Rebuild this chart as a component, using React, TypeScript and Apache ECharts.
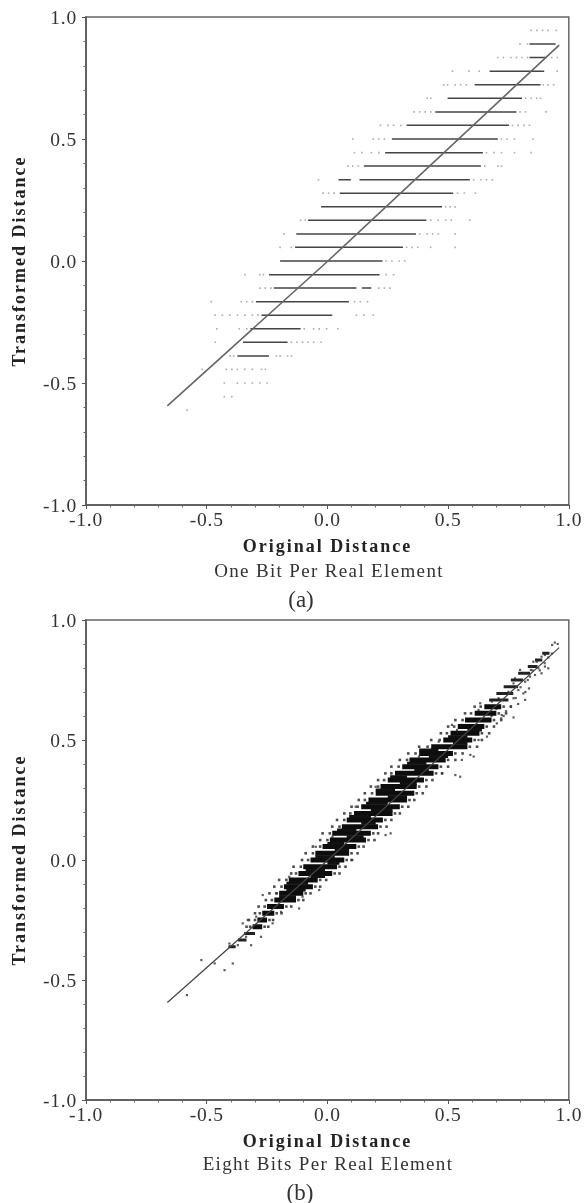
import React, { useEffect, useRef } from "react";
import * as echarts from "echarts";

const FONT = '"Liberation Serif", "Times New Roman", serif';

// ---------- Panel (a): one bit per real element ----------
const aLevels = [0.889, 0.834, 0.778, 0.722, 0.667, 0.611, 0.556, 0.5, 0.444, 0.389, 0.333, 0.333, 0.278, 0.222, 0.167, 0.111, 0.056, 0, -0.056, -0.111, -0.111, -0.167, -0.222, -0.278, -0.333, -0.389];
const aSolidStart = [0.837, 0.837, 0.672, 0.61, 0.498, 0.447, 0.328, 0.267, 0.239, 0.151, 0.046, 0.133, 0.051, -0.026, -0.08, -0.129, -0.134, -0.196, -0.242, -0.222, 0.143, -0.296, -0.273, -0.319, -0.35, -0.373];
const aSolidEnd = [0.945, 0.906, 0.898, 0.883, 0.806, 0.783, 0.752, 0.706, 0.644, 0.636, 0.097, 0.59, 0.521, 0.475, 0.41, 0.367, 0.313, 0.228, 0.216, 0.12, 0.182, 0.089, 0.02, -0.111, -0.165, -0.242];

const aDotLevels = [0.945, 0.889, 0.834, 0.778, 0.722, 0.667, 0.611, 0.556, 0.5, 0.444, 0.389, 0.333, 0.278, 0.222, 0.167, 0.111, 0.056, 0, -0.056, -0.111, -0.167, -0.222, -0.278, -0.333, -0.389, -0.444, -0.5, -0.556, -0.611];
const aDotValues = [
  [0.844, 0.868, 0.891, 0.914, 0.948],
  [0.798, 0.829],
  [0.706, 0.729, 0.76, 0.783, 0.806, 0.829, 0.929, 0.952],
  [0.518, 0.586, 0.629, 0.952],
  [0.482, 0.498, 0.529, 0.552, 0.575, 0.894, 0.914, 0.937],
  [0.413, 0.428, 0.821, 0.844, 0.867, 0.883],
  [0.359, 0.382, 0.405, 0.428, 0.798, 0.821, 0.906],
  [0.22, 0.251, 0.274, 0.305, 0.767, 0.79, 0.814, 0.837],
  [0.105, 0.19, 0.213, 0.236, 0.721, 0.744, 0.775, 0.852],
  [0.112, 0.143, 0.182, 0.213, 0.659, 0.69, 0.721, 0.775, 0.844],
  [0.086, 0.105, 0.128, 0.652, 0.706, 0.721],
  [-0.037, 0.606, 0.636, 0.659, 0.683],
  [-0.018, 0.005, 0.028, 0.539, 0.567, 0.613],
  [0.49, 0.508, 0.529],
  [-0.111, -0.092, 0.428, 0.459, 0.49, 0.513, 0.59],
  [-0.18, 0.382, 0.413, 0.436, 0.459, 0.529],
  [-0.196, -0.149, 0.328, 0.351, 0.374, 0.428, 0.529],
  [0.243, 0.267, 0.297, 0.32],
  [-0.342, -0.28, -0.265, 0.243, 0.274],
  [-0.28, -0.257, -0.234, 0.213, 0.236, 0.259],
  [-0.481, -0.357, -0.334, -0.311, 0.112, 0.136, 0.166],
  [-0.465, -0.435, -0.404, -0.373, -0.342, -0.311, -0.288, 0.12, 0.151, 0.19],
  [-0.458, -0.365, -0.334, -0.096, -0.057, -0.034, -0.003, 0.043],
  [-0.465, -0.149, -0.126, -0.103, -0.08, -0.057, -0.026],
  [-0.404, -0.388, -0.211, -0.196, -0.165, -0.149],
  [-0.519, -0.419, -0.396, -0.373, -0.342, -0.311, -0.273, -0.257],
  [-0.427, -0.373, -0.342, -0.311, -0.28, -0.25],
  [-0.427, -0.396],
  [-0.581],
];

// Diagonal reference line
const diagX = [-0.663, 0, 0.96];
const diagY = [-0.594, -0.002, 0.885];

// ---------- Panel (b): eight bits per real element ----------
const bLevels = [-0.278, -0.25, -0.222, -0.194, -0.167, -0.139, -0.111, -0.083, -0.056, -0.028, 0, 0.028, 0.056, 0.083, 0.111, 0.139, 0.167, 0.194, 0.222, 0.25, 0.278, 0.306, 0.333, 0.361, 0.389, 0.417, 0.444, 0.472, 0.5, 0.528, 0.556, 0.583, 0.611, 0.639];
const bStart = [-0.31, -0.29, -0.27, -0.25, -0.22, -0.2, -0.18, -0.16, -0.12, -0.1, -0.07, -0.05, -0.02, 0.01, 0.02, 0.06, 0.08, 0.11, 0.14, 0.17, 0.2, 0.22, 0.25, 0.28, 0.31, 0.34, 0.38, 0.43, 0.48, 0.51, 0.54, 0.57, 0.61, 0.65];
const bEnd = [-0.27, -0.25, -0.22, -0.18, -0.13, -0.1, -0.06, -0.04, 0.02, 0.04, 0.07, 0.09, 0.12, 0.16, 0.18, 0.21, 0.23, 0.27, 0.3, 0.33, 0.36, 0.37, 0.4, 0.44, 0.46, 0.49, 0.52, 0.58, 0.6, 0.63, 0.65, 0.68, 0.7, 0.72];

// Darker clusters between the levels: the rows join up over part of the band
const bFillY = [-0.153, -0.125, -0.097, -0.069, -0.042, -0.014, 0.014, 0.042, 0.069, 0.097, 0.125, 0.153, 0.181, 0.208, 0.236, 0.264, 0.292, 0.319, 0.347, 0.375, 0.403, 0.431, 0.458, 0.486, 0.514, 0.542];
const bFillStart = [-0.2, -0.17, -0.17, -0.07, -0.09, 0.0, -0.05, 0.03, 0.0, 0.08, 0.04, 0.14, 0.09, 0.18, 0.16, 0.25, 0.2, 0.3, 0.26, 0.36, 0.33, 0.42, 0.38, 0.52, 0.5, 0.58];
const bFillEnd = [-0.13, -0.09, -0.08, -0.01, -0.01, 0.05, 0.03, 0.09, 0.07, 0.15, 0.12, 0.2, 0.18, 0.27, 0.25, 0.33, 0.28, 0.37, 0.33, 0.42, 0.41, 0.5, 0.46, 0.58, 0.58, 0.64];

// The thinner tail where the band narrows towards the upper right and lower left
const bTailY = [0.667, 0.694, 0.722, 0.75, 0.778, 0.806, 0.833, 0.861, -0.306, -0.333, -0.361];
const bTailStart = [0.67, 0.7, 0.73, 0.76, 0.79, 0.83, 0.86, 0.89, -0.345, -0.37, -0.41];
const bTailEnd = [0.75, 0.77, 0.79, 0.81, 0.84, 0.87, 0.89, 0.92, -0.3, -0.335, -0.38];

const bSpeckX = [0.942, 0.954, 0.931, 0.901, 0.915, 0.887, 0.867, 0.853, 0.843, 0.874, 0.901, 0.915, 0.798, 0.839, 0.86, 0.887, 0.777, 0.771, 0.819, 0.835, 0.791, 0.812, 0.75, 0.709, 0.633, 0.626, 0.661, 0.681, 0.736, 0.771, 0.819, 0.771, 0.702, 0.722, 0.592, 0.557, 0.516, 0.537, 0.661, 0.626, 0.606, 0.592, 0.557, 0.55, 0.53, 0.475, 0.406, 0.434, 0.461, 0.379, 0.337, -0.582, -0.522, -0.467, -0.426, -0.392, -0.406, -0.371, -0.337, -0.316, -0.351, -0.33, -0.282, -0.275, -0.295, -0.268, -0.227, -0.192, -0.117, -0.103, -0.158, -0.213, -0.034, 0.007, -0.048, 0.021, 0.117, 0.241, 0.262, 0.103, 0.2, 0.78, 0.8, 0.83, 0.85, 0.76, 0.73, 0.7, 0.68, 0.66, 0.88, 0.9, 0.93, 0.82, 0.79, 0.74, 0.72];
const bSpeckY = [0.906, 0.9, 0.896, 0.854, 0.844, 0.847, 0.826, 0.826, 0.792, 0.799, 0.806, 0.799, 0.792, 0.764, 0.771, 0.778, 0.757, 0.736, 0.743, 0.715, 0.708, 0.694, 0.701, 0.674, 0.653, 0.625, 0.639, 0.66, 0.667, 0.674, 0.667, 0.594, 0.569, 0.604, 0.583, 0.563, 0.563, 0.542, 0.514, 0.5, 0.431, 0.438, 0.417, 0.347, 0.354, 0.361, 0.451, 0.465, 0.493, 0.431, 0.403, -0.563, -0.417, -0.431, -0.459, -0.431, -0.348, -0.355, -0.32, -0.355, -0.264, -0.25, -0.278, -0.32, -0.236, -0.146, -0.264, -0.216, -0.202, -0.153, -0.07, -0.139, -0.125, -0.028, 0.055, 0.097, 0.222, 0.104, 0.111, 0, 0.305, 0.675, 0.72, 0.75, 0.79, 0.64, 0.6, 0.63, 0.6, 0.58, 0.79, 0.82, 0.86, 0.7, 0.65, 0.62, 0.59];

// Specks hugging the band's two edges, one list per row of bLevels
const bEdgeLeft = [
  [-0.335, -0.32], [-0.325, -0.3], [-0.3, -0.28], [-0.285, -0.26], [-0.255, -0.23], [-0.24, -0.21], [-0.22, -0.19], [-0.2, -0.17],
  [-0.15, -0.13], [-0.14, -0.11], [-0.105, -0.08], [-0.09, -0.06], [-0.06, -0.03], [-0.03, 0.0], [-0.02, 0.01], [0.02, 0.05],
  [0.04, 0.07], [0.07, 0.095], [0.1, 0.125], [0.13, 0.155], [0.155, 0.185], [0.18, 0.21], [0.21, 0.235], [0.24, 0.265], [0.265, 0.295], [0.3, 0.33],
  [0.335, 0.365], [0.38, 0.415], [0.43, 0.465], [0.47, 0.495], [0.5, 0.525], [0.53, 0.56], [0.57, 0.595], [0.61, 0.635],
];
const bEdgeRight = [
  [-0.26, -0.245], [-0.24, -0.225], [-0.21, -0.19], [-0.17, -0.15], [-0.12, -0.1], [-0.09, -0.07], [-0.05, -0.03], [-0.03, -0.005],
  [0.03, 0.05], [0.05, 0.075], [0.08, 0.1], [0.1, 0.125], [0.13, 0.15], [0.17, 0.195], [0.19, 0.21], [0.22, 0.245],
  [0.24, 0.265], [0.28, 0.3], [0.31, 0.335], [0.34, 0.36], [0.37, 0.395], [0.38, 0.41], [0.41, 0.435], [0.45, 0.475], [0.47, 0.5], [0.5, 0.53],
  [0.53, 0.56], [0.59, 0.62], [0.61, 0.64], [0.64, 0.67], [0.66, 0.69], [0.69, 0.72], [0.71, 0.74], [0.73, 0.76],
];

const xTitle = "Original Distance";
const yTitle = "Transformed Distance";
const subtitleA = "One Bit Per Real Element";
const subtitleB = "Eight Bits Per Real Element";

const zip = (xs: number[], ys: number[]) => xs.map((x, i) => [x, ys[i]]);
const segments = (levels: number[], s: number[], e: number[]) =>
  levels.flatMap((y, i) => [[s[i], y], [e[i], y], [null, null]]);
const dots = aDotLevels.flatMap((y, i) => aDotValues[i].map((x) => [x, y]));
const edgeSpecks = bLevels.flatMap((y, i) => [...bEdgeLeft[i], ...bEdgeRight[i]].map((x) => [x, y]));

const axisCommon = {
  type: "value",
  min: -1,
  max: 1,
  interval: 0.5,
  splitLine: { show: false },
  axisLine: { show: true, onZero: false, lineStyle: { color: "#555", width: 1.5 } },
  axisTick: { show: true, inside: false, length: 4, lineStyle: { color: "#555", width: 1 } },
  minorTick: { show: true, splitNumber: 5, length: 2.5, lineStyle: { color: "#666", width: 1 } },
  minorSplitLine: { show: false },
  axisLabel: {
    fontFamily: FONT,
    fontSize: 19.5,
    color: "#333",
    formatter: (v: number) => v.toFixed(1),
  },
};

const titleStyle = { fontFamily: FONT, fontSize: 18, fontWeight: "bold", color: "#222" };

const xAxis = (gridIndex: number) => ({
  ...axisCommon,
  gridIndex,
  name: xTitle,
  nameLocation: "middle",
  nameGap: 32,
  nameTextStyle: titleStyle,
  axisLabel: { ...axisCommon.axisLabel, margin: 4 },
});
const yAxis = (gridIndex: number) => ({
  ...axisCommon,
  gridIndex,
  name: yTitle,
  nameLocation: "middle",
  nameGap: 58,
  nameTextStyle: titleStyle,
  axisLabel: { ...axisCommon.axisLabel, margin: 9 },
});

const lineSeries = (idx: number, data: any[], color: string, width: number) => ({
  type: "line",
  xAxisIndex: idx,
  yAxisIndex: idx,
  data,
  symbol: "none",
  silent: true,
  connectNulls: false,
  lineStyle: { color, width, cap: "butt" },
});
const speckSeries = (idx: number, data: number[][], color: string, size: number) => ({
  type: "scatter",
  xAxisIndex: idx,
  yAxisIndex: idx,
  data,
  symbol: "rect",
  symbolSize: size,
  silent: true,
  itemStyle: { color },
});

const caption = (text: string, cx: number, y: number, size: number) => ({
  type: "text",
  x: cx,
  y,
  style: { text, fontFamily: FONT, fontSize: size, fill: "#333", textAlign: "center", textVerticalAlign: "middle" },
});

const gridStyle = { show: true, borderColor: "#666", borderWidth: 1.5, backgroundColor: "transparent" };

export default function App() {
  const ref = useRef<HTMLDivElement>(null);
  useEffect(() => {
    const chart = echarts.init(ref.current!, undefined, { renderer: "svg" });
    chart.setOption({
      animation: false,
      backgroundColor: "#fff",
      grid: [
        { ...gridStyle, left: 86, right: 14, top: 17, height: 488 },
        { ...gridStyle, left: 86, right: 14, top: 620, height: 480 },
      ],
      xAxis: [xAxis(0), xAxis(1)],
      yAxis: [yAxis(0), yAxis(1)],
      series: [
        lineSeries(0, segments(aLevels, aSolidStart, aSolidEnd), "#444", 1.5),
        speckSeries(0, dots, "#999", 1.6),
        lineSeries(0, zip(diagX, diagY), "#666", 1.6),
        lineSeries(1, segments(bLevels, bStart, bEnd), "#0d0d0d", 5),
        lineSeries(1, segments(bFillY, bFillStart, bFillEnd), "#111", 3),
        lineSeries(1, segments(bTailY, bTailStart, bTailEnd), "#222", 3),
        speckSeries(1, edgeSpecks, "#222", 2.6),
        speckSeries(1, zip(bSpeckX, bSpeckY), "#333", 2.2),
        lineSeries(1, zip(diagX, diagY), "#444", 1.2),
      ],
      graphic: [
        caption(subtitleA, 329, 570, 19),
        caption("(a)", 301, 599, 23),
        caption(subtitleB, 328, 1163, 19),
        caption("(b)", 300, 1192, 23),
      ],
    });
    return () => chart.dispose();
  }, []);
  return (
    <div style={{ position: "absolute", left: 0, top: 0 }}>
      <style>{`text[style*="bold"]{letter-spacing:2px} text[style*="19px"]{letter-spacing:1.35px} text[style*="19.5px"]{letter-spacing:0.8px}`}</style>
      <div ref={ref} style={{ width: 584, height: 1203, filter: "blur(0.6px)" }} />
    </div>
  );
}
